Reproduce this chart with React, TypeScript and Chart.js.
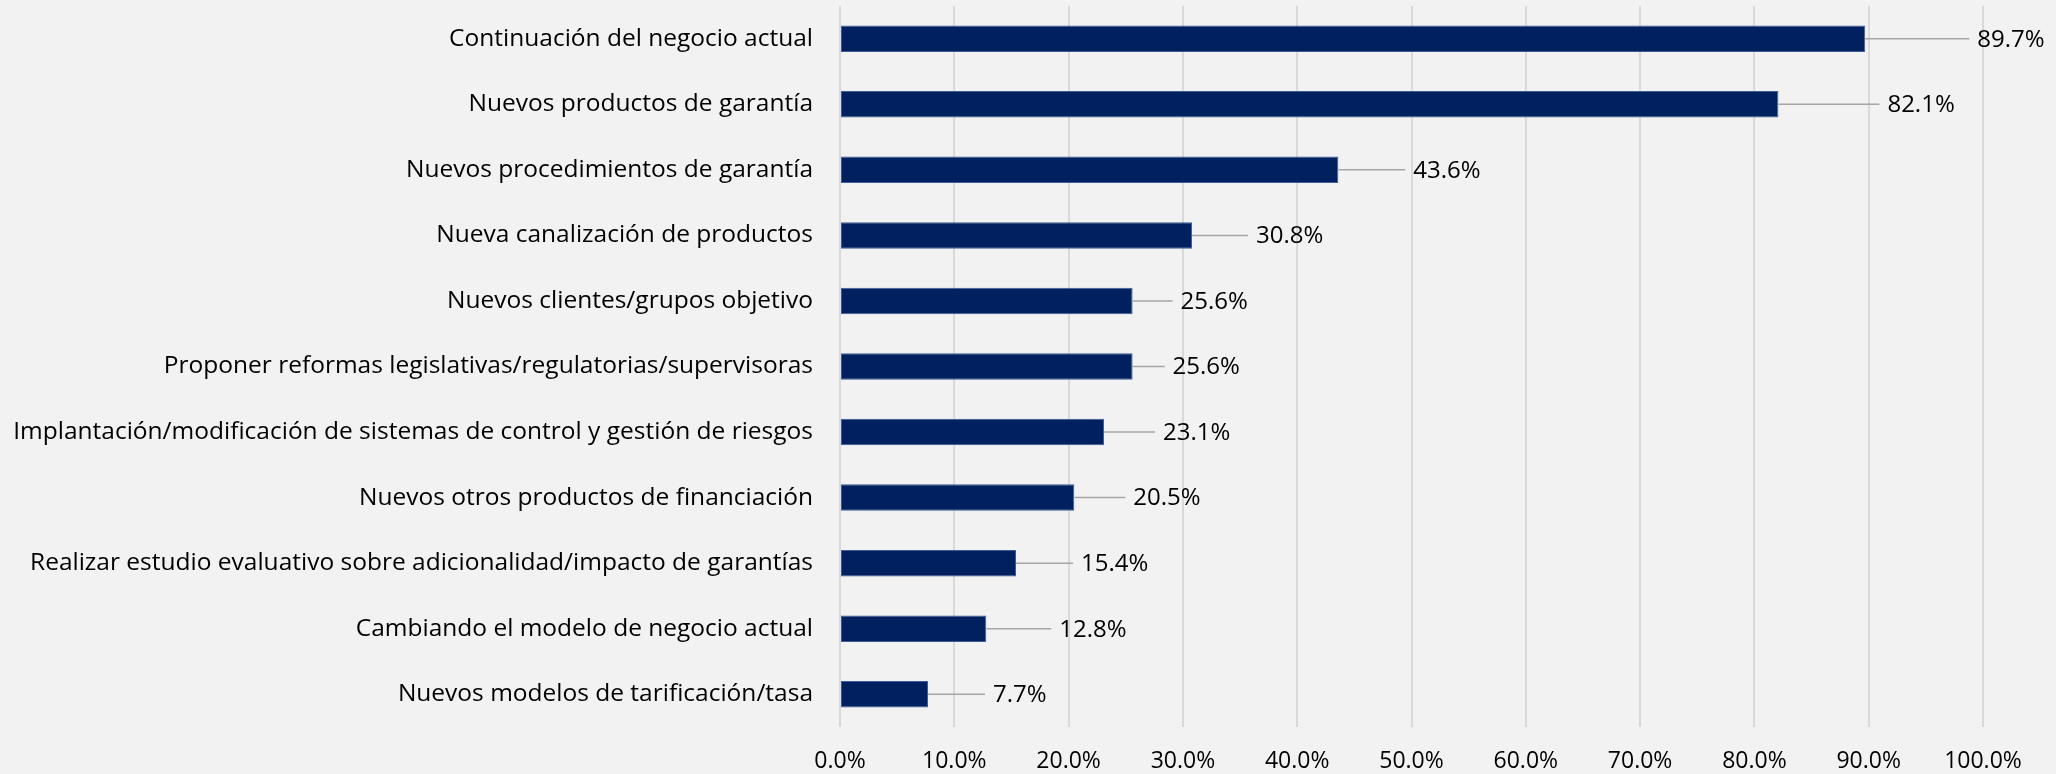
import React, { useEffect, useRef } from "react";
import { Chart, registerables } from "chart.js";

Chart.register(...registerables);

const categories: string[] = [
  "Continuación del negocio actual",
  "Nuevos productos de garantía",
  "Nuevos procedimientos de garantía",
  "Nueva canalización de productos",
  "Nuevos clientes/grupos objetivo",
  "Proponer reformas legislativas/regulatorias/supervisoras",
  "Implantación/modificación de sistemas de control y gestión de riesgos",
  "Nuevos otros productos de financiación",
  "Realizar estudio evaluativo sobre adicionalidad/impacto de garantías",
  "Cambiando el modelo de negocio actual",
  "Nuevos modelos de tarificación/tasa",
];

const values: number[] = [89.7, 82.1, 43.6, 30.8, 25.6, 25.6, 23.1, 20.5, 15.4, 12.8, 7.7];

const xTickLabels: string[] = [
  "0.0%", "10.0%", "20.0%", "30.0%", "40.0%", "50.0%",
  "60.0%", "70.0%", "80.0%", "90.0%", "100.0%",
];

const FONT = "'Open Sans', 'Liberation Sans', Arial, sans-serif";
const BG = "#f2f2f2";

// leader-line lengths (px) for each data label, as placed in the original
const leaderLengths = [104, 101, 67, 56, 40, 32, 51, 51, 57, 65, 57];

const leaderLabelPlugin = {
  id: "leaderLabels",
  afterDatasetsDraw(chart: any) {
    const ctx = chart.ctx;
    const meta = chart.getDatasetMeta(0);
    ctx.save();
    meta.data.forEach((bar: any, i: number) => {
      const x0 = bar.x;
      const y = bar.y;
      const len = leaderLengths[i] ?? 50;
      ctx.strokeStyle = "#a6a6a6";
      ctx.lineWidth = 1.5;
      ctx.beginPath();
      ctx.moveTo(x0, y);
      ctx.lineTo(x0 + len, y);
      ctx.stroke();
      ctx.fillStyle = "#000000";
      ctx.font = `24px ${FONT}`;
      ctx.textAlign = "left";
      ctx.textBaseline = "middle";
      ctx.fillText(values[i].toFixed(1) + "%", x0 + len + 8, y + 1);
    });
    ctx.restore();
  },
};

const bgPlugin = {
  id: "bgFill",
  beforeDraw(chart: any) {
    const ctx = chart.ctx;
    ctx.save();
    ctx.fillStyle = BG;
    ctx.fillRect(0, 0, chart.width, chart.height);
    ctx.restore();
  },
};

export default function App() {
  const canvasRef = useRef<HTMLCanvasElement | null>(null);

  useEffect(() => {
    document.body.style.margin = "0";
    document.body.style.background = BG;
    const canvas = canvasRef.current;
    if (!canvas) return;
    const chart = new Chart(canvas, {
      type: "bar",
      data: {
        labels: categories,
        datasets: [
          {
            data: values,
            backgroundColor: "#00205f",
            borderColor: "#3e5c96",
            borderWidth: 1,
            borderSkipped: false,
            categoryPercentage: 1,
            barPercentage: 0.404,
          },
        ],
      },
      options: {
        indexAxis: "y",
        animation: false,
        responsive: false,
        maintainAspectRatio: false,
        devicePixelRatio: 1,
        layout: { padding: { top: 6, right: 73, bottom: 0, left: 0 } },
        plugins: {
          legend: { display: false },
          tooltip: { enabled: false },
          title: { display: false },
        },
        scales: {
          x: {
            type: "linear",
            min: 0,
            max: 100,
            position: "bottom",
            afterFit: (scale: any) => {
              scale.height = 47;
              scale.paddingLeft = 0;
              scale.paddingRight = 0;
            },
            ticks: {
              stepSize: 10,
              padding: 21,
              color: "#000000",
              font: { family: FONT, size: 23 },
              callback: (_v: any, idx: number) => xTickLabels[idx],
              maxRotation: 0,
              autoSkip: false,
            },
            grid: {
              color: "#d9d9d9",
              lineWidth: 2,
              drawTicks: false,
            },
            border: { display: false },
          },
          y: {
            type: "category",
            position: "left",
            afterFit: (scale: any) => {
              scale.width = 840;
              scale.paddingTop = 0;
              scale.paddingBottom = 0;
            },
            ticks: {
              padding: 27,
              color: "#000000",
              font: { family: FONT, size: 24.5 },
              autoSkip: false,
            },
            grid: { display: false, drawTicks: false },
            border: { display: false },
          },
        },
      },
      plugins: [bgPlugin, leaderLabelPlugin],
    });
    return () => chart.destroy();
  }, []);

  return (
    <div style={{ width: 2056, height: 774, background: BG }}>
      <canvas ref={canvasRef} width={2056} height={774} style={{ display: "block", width: 2056, height: 774 }} />
    </div>
  );
}
